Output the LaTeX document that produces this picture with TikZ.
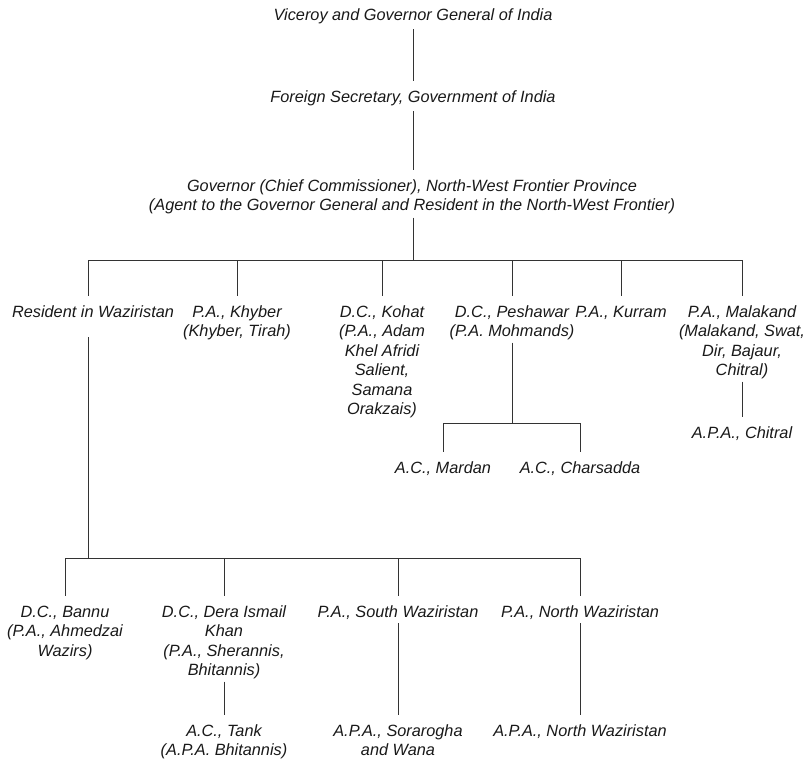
\documentclass[tikz,border=0pt]{standalone}
\usepackage{fontspec}
\setmainfont{Liberation Sans}
\begin{document}
\begin{tikzpicture}[x=1pt,y=-1pt,
  lbl/.style={anchor=north, inner sep=0pt, align=center,
    font=\fontsize{16.3}{19.5}\selectfont\itshape, text=black!90},
  conn/.style={draw=black!80, line width=1pt}]
\useasboundingbox (0,0) rectangle (807,761);
% level 0-2
\node[lbl] (vic) at (413,6.2) {\strut Viceroy and Governor General of India\strut};
\node[lbl] (fs) at (413,88.2) {\strut Foreign Secretary, Government of India\strut};
\node[lbl] (gov) at (412,177.2) {\strut Governor (Chief Commissioner), North-West Frontier Province\\(Agent to the Governor General and Resident in the North-West Frontier)\strut};
% level 3
\node[lbl] (res) at (93,303.2) {\strut Resident in Waziristan\strut};
\node[lbl] (khy) at (237,303.2) {\strut P.A., Khyber\\(Khyber, Tirah)\strut};
\node[lbl] (koh) at (382,303.2) {\strut D.C., Kohat\\(P.A., Adam\\Khel Afridi\\Salient,\\Samana\\Orakzais)\strut};
\node[lbl] (pes) at (512,303.2) {\strut D.C., Peshawar\\(P.A. Mohmands)\strut};
\node[lbl] (kur) at (621,303.2) {\strut P.A., Kurram\strut};
\node[lbl] (mal) at (742,303.2) {\strut P.A., Malakand\\(Malakand, Swat,\\Dir, Bajaur,\\Chitral)\strut};
% under Peshawar / Malakand
\node[lbl] (mar) at (443,459.2) {\strut A.C., Mardan\strut};
\node[lbl] (cha) at (580,459.2) {\strut A.C., Charsadda\strut};
\node[lbl] (chi) at (742,424.2) {\strut A.P.A., Chitral\strut};
% under Resident in Waziristan
\node[lbl] (ban) at (65,603.2) {\strut D.C., Bannu\\(P.A., Ahmedzai\\Wazirs)\strut};
\node[lbl] (der) at (224,603.2) {\strut D.C., Dera Ismail\\Khan\\(P.A., Sherannis,\\Bhitannis)\strut};
\node[lbl] (swz) at (398,603.2) {\strut P.A., South Waziristan\strut};
\node[lbl] (nwz) at (580,603.2) {\strut P.A., North Waziristan\strut};
\node[lbl] (tan) at (224,722.2) {\strut A.C., Tank\\(A.P.A. Bhitannis)\strut};
\node[lbl] (sor) at (398,722.2) {\strut A.P.A., Sorarogha\\and Wana\strut};
\node[lbl] (anw) at (580,722.2) {\strut A.P.A., North Waziristan\strut};
% bars and helper points
\coordinate (b1) at (413,260);
\coordinate (b2) at (512,423);
\coordinate (b3) at (88,558);
\coordinate (rtop) at ([yshift=7pt]res.north);
\coordinate (rbot) at ([yshift=-14pt]res.south);
% connectors
\draw[conn] ([yshift=-3pt]vic.south) -- ([yshift=7pt]fs.north);
\draw[conn] ([yshift=-3pt]fs.south) -- ([yshift=7pt]gov.north -| fs.south);
\draw[conn] ([yshift=-1pt]gov.south -| fs.south) -- (b1);
\draw[conn] (b3 |- b1) -- (mal.north |- b1);
\draw[conn] (b3 |- b1) -- (b3 |- rtop);
\foreach \n in {khy,koh,pes,kur,mal}
  \draw[conn] (\n.north |- b1) -- ([yshift=7pt]\n.north);
\draw[conn] (pes.south) -- (b2);
\draw[conn] (mar.north |- b2) -- (cha.north |- b2);
\foreach \n in {mar,cha}
  \draw[conn] (\n.north |- b2) -- ([yshift=7pt]\n.north);
\draw[conn] (mal.south) -- ([yshift=7pt]chi.north);
\draw[conn] (b3 |- rbot) -- (b3);
\draw[conn] (ban.north |- b3) -- (nwz.north |- b3);
\foreach \n in {ban,der,swz,nwz}
  \draw[conn] (\n.north |- b3) -- ([yshift=7pt]\n.north);
\draw[conn] (der.south) -- ([yshift=7pt]tan.north);
\draw[conn] (swz.south) -- ([yshift=7pt]sor.north);
\draw[conn] (nwz.south) -- ([yshift=7pt]anw.north);
\end{tikzpicture}
\end{document}
